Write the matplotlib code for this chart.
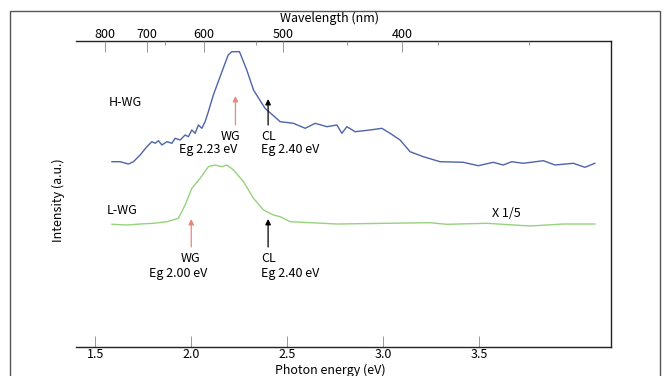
import matplotlib
matplotlib.use("Agg")
import matplotlib.pyplot as plt
from matplotlib.patches import Rectangle

plt.rcParams['font.family'] = ['Noto Sans CJK JP', 'DejaVu Sans']

# H-WG (blue) spectrum: photon energy (eV), intensity (a.u.)
h_energy = [1.587, 1.630, 1.673, 1.699, 1.734, 1.769, 1.795, 1.812, 1.829, 1.847,
            1.873, 1.899, 1.916, 1.942, 1.968, 1.985, 2.003, 2.020, 2.037, 2.055,
            2.072, 2.089, 2.115, 2.150, 2.192, 2.211, 2.251, 2.289, 2.324, 2.384,
            2.463, 2.532, 2.593, 2.645, 2.706, 2.758, 2.784, 2.810, 2.853, 2.931,
            2.992, 3.035, 3.087, 3.139, 3.208, 3.295, 3.416, 3.494, 3.572, 3.624,
            3.668, 3.728, 3.833, 3.893, 3.989, 4.049, 4.101]
h_intensity = [196.3, 196.3, 194.0, 196.3, 203.0, 211.3, 216.3, 214.7, 217.3, 213.0,
               216.3, 214.7, 219.7, 218.0, 223.0, 221.3, 228.0, 224.7, 233.0, 229.7,
               236.3, 246.3, 263.0, 281.3, 303.0, 306.3, 306.3, 288.0, 268.0, 249.7,
               236.3, 234.7, 229.7, 234.7, 231.3, 233.0, 224.7, 231.3, 226.3, 228.0,
               229.7, 224.7, 218.0, 206.3, 201.3, 196.3, 195.7, 192.3, 195.7, 193.0,
               196.3, 194.7, 197.3, 193.0, 194.7, 190.7, 194.7]

# L-WG (green) spectrum, shown x 1/5
l_energy = [1.587, 1.665, 1.734, 1.803, 1.873, 1.933, 1.968, 2.003, 2.046, 2.089,
            2.124, 2.159, 2.185, 2.220, 2.272, 2.324, 2.376, 2.428, 2.463, 2.515,
            2.758, 3.018, 3.243, 3.330, 3.538, 3.763, 3.937, 4.101]
l_intensity = [133.7, 133.0, 134.0, 134.7, 136.3, 139.7, 153.0, 169.7, 179.7, 191.3,
               193.0, 191.3, 193.0, 188.0, 176.3, 159.7, 148.0, 143.0, 141.3, 136.3,
               134.0, 134.7, 135.3, 133.7, 134.7, 132.0, 134.0, 134.0]

energy_ticks = [1.5, 2.0, 2.5, 3.0, 3.5]
energy_labels = ["1.5", "2.0", "2.5", "3.0", "3.5"]
wavelength_ticks = [800, 700, 600, 500, 400]
wavelength_minor_energy = [1.862, 2.335, 2.81, 3.287, 3.76]

# band-gap markers
h_wg_eg, h_cl_eg = 2.23, 2.40
l_wg_eg, l_cl_eg = 2.00, 2.40

blue = '#4f63a8'
green = '#96d27c'
red = '#e8877c'

fig = plt.figure(figsize=(6.67, 3.76), dpi=100)
fig.patches.append(Rectangle((10/667, -0.05), 650/667, 1.05 - 11/376,
                             transform=fig.transFigure, fill=False,
                             edgecolor='#555555', linewidth=1.0))
ax = fig.add_axes([76/667, 1 - 347/376, 535/667, 306/376])

ax.plot(h_energy, h_intensity, color=blue, linewidth=1.0)
ax.plot(l_energy, l_intensity, color=green, linewidth=1.0)

ax.set_xlim(1.40, 4.185)
ax.set_ylim(11, 317)

ax.spines['left'].set_visible(False)
ax.set_yticks([])
for s in ['top', 'right', 'bottom']:
    ax.spines[s].set_linewidth(1.0)
    ax.spines[s].set_color('#222222')

fs = 9
ax.set_xticks(energy_ticks)
ax.set_xticklabels(energy_labels)
ax.tick_params(axis='x', direction='in', length=8, width=0.6, color='#888888',
               labelsize=fs, pad=1)

tw = ax.twiny()
tw.set_xlim(ax.get_xlim())
tw.set_xticks([1239.84 / w for w in wavelength_ticks])
tw.set_xticklabels([str(w) for w in wavelength_ticks])
tw.set_xticks(wavelength_minor_energy, minor=True)
tw.tick_params(axis='x', which='major', direction='in', length=8, width=0.6,
               color='#888888', labelsize=fs, pad=0)
tw.tick_params(axis='x', which='minor', direction='in', length=3, width=0.6,
               color='#888888')
for s in tw.spines.values():
    s.set_visible(False)

fig.text(330/667, 1 - 18/376, "Wavelength (nm)", ha='center', va='center', fontsize=fs)
fig.text(330/667, 1 - 370/376, "Photon energy (eV)", ha='center', va='center', fontsize=fs)
fig.text(58/667, 1 - 200/376, "Intensity (a.u.)", ha='center', va='center',
         rotation=90, fontsize=fs)

def arrow(x, y0, y1, color):
    ax.annotate("", xy=(x, y1), xytext=(x, y0),
                arrowprops=dict(arrowstyle='-|>', color=color, lw=0.9,
                                mutation_scale=8, shrinkA=0, shrinkB=0))

arrow(h_wg_eg, 233, 262, red)
arrow(h_cl_eg, 233, 259, 'black')
arrow(l_wg_eg, 111, 139, red)
arrow(l_cl_eg, 111, 139, 'black')

ax.text(1.568, 256, "H-WG", ha='left', va='center', fontsize=fs)
ax.text(2.206, 221.3, "WG", ha='center', va='center', fontsize=fs)
ax.text(2.090, 208, "Eg 2.23 eV", ha='center', va='center', fontsize=fs)
ax.text(2.362, 221.3, "CL", ha='left', va='center', fontsize=fs)
ax.text(2.362, 208, "Eg 2.40 eV", ha='left', va='center', fontsize=fs)

ax.text(1.562, 148, "L-WG", ha='left', va='center', fontsize=fs)
ax.text(1.998, 99.7, "WG", ha='center', va='center', fontsize=fs)
ax.text(1.930, 84.7, "Eg 2.00 eV", ha='center', va='center', fontsize=fs)
ax.text(2.362, 99.7, "CL", ha='left', va='center', fontsize=fs)
ax.text(2.362, 84.7, "Eg 2.40 eV", ha='left', va='center', fontsize=fs)
ax.text(3.642, 144.7, "X 1/5", ha='center', va='center', fontsize=fs)

fig.savefig("out.png", dpi=100)
